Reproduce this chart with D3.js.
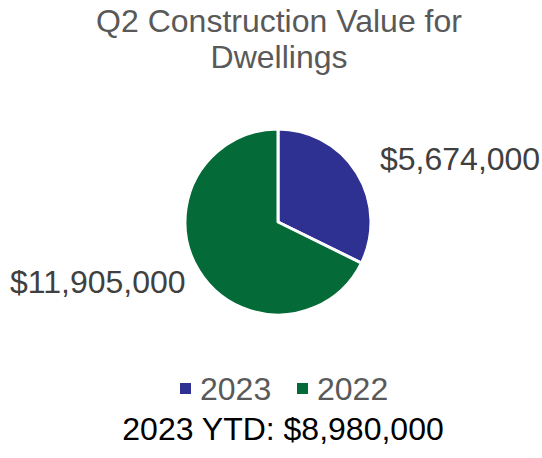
<!DOCTYPE html>
<html>
<head>
<meta charset="utf-8">
<script src="https://cdn.jsdelivr.net/npm/d3@7"></script>
<style>
  body { margin: 0; background: #fff; }
  text { font-family: "Liberation Sans", Arial, sans-serif; }
</style>
</head>
<body>
<div id="chart"></div>
<script>
// donnees du graphique
var years = ["2023", "2022"];
var values = [5674000, 11905000];
var colors = ["#2E3192", "#046A38"];
var titleLines = ["Q2 Construction Value for", "Dwellings"];
var ytdLabel = "2023 YTD: $8,980,000";

var width = 542, height = 458;
var cx = 278, cy = 222, radius = 93;

var svg = d3.select("#chart")
    .append("svg")
    .attr("width", width)
    .attr("height", height);

// titre
svg.selectAll("text.title")
    .data(titleLines)
    .enter()
    .append("text")
    .attr("class", "title")
    .attr("x", 279)
    .attr("y", (d, i) => 32 + i * 36)
    .attr("text-anchor", "middle")
    .attr("fill", "#595959")
    .style("font-size", "32px")
    .text(d => d);

var data = years.map((y, i) => ({ key: y, value: values[i], color: colors[i] }));

var pie = d3.pie().sort(null).value(d => d.value);
var arc = d3.arc().innerRadius(0).outerRadius(radius);
var arcs = pie(data);

var g = svg.append("g")
    .attr("transform", "translate(" + cx + "," + cy + ")");

g.selectAll("path")
    .data(arcs)
    .enter()
    .append("path")
    .attr("d", arc)
    .attr("fill", d => d.data.color)
    .attr("stroke", "white")
    .attr("stroke-width", 3)
    .attr("stroke-linejoin", "round");

var fmt = d3.format("$,");

// etiquettes des secteurs
g.selectAll("text.slice-label")
    .data(arcs)
    .enter()
    .append("text")
    .attr("class", "slice-label")
    .attr("x", (d, i) => i === 0 ? 102 : -268)
    .attr("y", (d, i) => i === 0 ? -52 : 71)
    .attr("fill", "#404040")
    .style("font-size", "32px")
    .text(d => fmt(d.data.value));

// legende
var legendX = [180, 297];
var legend = svg.selectAll("g.legend")
    .data(data)
    .enter()
    .append("g")
    .attr("class", "legend")
    .attr("transform", (d, i) => "translate(" + legendX[i] + ",0)");

legend.append("rect")
    .attr("x", 0)
    .attr("y", 383)
    .attr("width", 11)
    .attr("height", 11)
    .attr("fill", d => d.color);

legend.append("text")
    .attr("x", 20)
    .attr("y", 400)
    .attr("fill", "#595959")
    .style("font-size", "32px")
    .text(d => d.key);

svg.append("text")
    .attr("x", 283)
    .attr("y", 440)
    .attr("text-anchor", "middle")
    .attr("fill", "#000")
    .style("font-size", "32px")
    .text(ytdLabel);
</script>
</body>
</html>
